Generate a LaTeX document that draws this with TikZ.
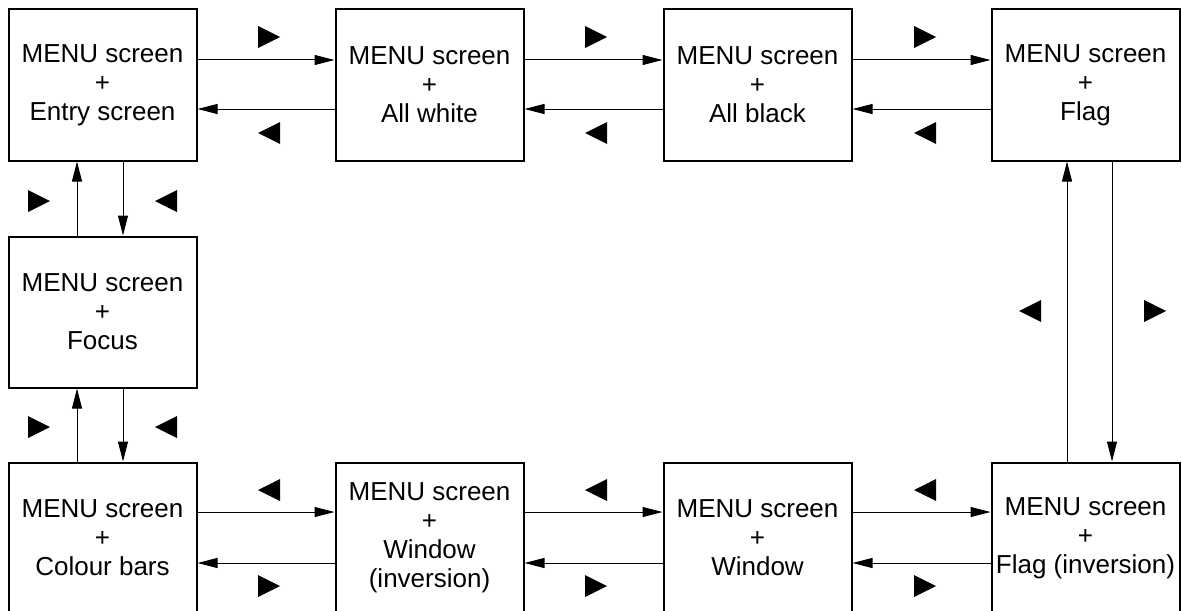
\documentclass[tikz,border=0pt]{standalone}
\usepackage{fontspec}
\setmainfont{Liberation Sans}
\usetikzlibrary{arrows.meta}
\tikzset{
  box/.style={draw, line width=2pt, minimum width=188pt, minimum height=151pt, inner sep=1pt,
    align=center, font=\fontsize{26}{29}\selectfont},
  arr/.style={line width=1pt, -{Triangle[length=20pt,width=10pt]}},
  rtri/.pic={\fill (-11,-11) -- (11,0) -- (-11,11) -- cycle;},
  ltri/.pic={\fill (11,-11) -- (-11,0) -- (11,11) -- cycle;}
}
\begin{document}
\begin{tikzpicture}[x=1pt,y=-1pt]
\useasboundingbox (0,0) rectangle (1182,610);
% boxes
\node[box] (entry) at (102.5,85) {MENU screen\\+\\Entry screen};
\node[box] (white) at (429.5,85) {MENU screen\\+\\All white};
\node[box] (black) at (757.5,85) {MENU screen\\+\\All black};
\node[box] (flag) at (1085.5,85) {MENU screen\\+\\Flag};
\node[box] (focus) at (102.5,312) {MENU screen\\+\\Focus};
\node[box] (colour) at (102.5,538) {MENU screen\\+\\Colour bars};
\node[box] (winv) at (429.5,538) {MENU screen\\+\\Window\\(inversion)};
\node[box] (win) at (757.5,538) {MENU screen\\+\\Window};
\node[box] (finv) at (1085.5,538) {MENU screen\\+\\Flag (inversion)};
% top row connectors
\draw[arr] ([yshift=25pt]entry.east) -- ([yshift=25pt]white.west);
\draw[arr] ([yshift=-24pt]white.west) -- ([yshift=-24pt]entry.east);
\draw[arr] ([yshift=25pt]white.east) -- ([yshift=25pt]black.west);
\draw[arr] ([yshift=-24pt]black.west) -- ([yshift=-24pt]white.east);
\draw[arr] ([yshift=25pt]black.east) -- ([yshift=25pt]flag.west);
\draw[arr] ([yshift=-24pt]flag.west) -- ([yshift=-24pt]black.east);
% bottom row connectors
\draw[arr] ([yshift=26pt]colour.east) -- ([yshift=26pt]winv.west);
\draw[arr] ([yshift=-25pt]winv.west) -- ([yshift=-25pt]colour.east);
\draw[arr] ([yshift=26pt]winv.east) -- ([yshift=26pt]win.west);
\draw[arr] ([yshift=-25pt]win.west) -- ([yshift=-25pt]winv.east);
\draw[arr] ([yshift=26pt]win.east) -- ([yshift=26pt]finv.west);
\draw[arr] ([yshift=-25pt]finv.west) -- ([yshift=-25pt]win.east);
% left column connectors
\draw[arr] ([xshift=-25.5pt]focus.north) -- ([xshift=-25.5pt]entry.south);
\draw[arr] ([xshift=20.5pt]entry.south) -- ([xshift=20.5pt]focus.north);
\draw[arr] ([xshift=-25.5pt]colour.north) -- ([xshift=-25.5pt]focus.south);
\draw[arr] ([xshift=20.5pt]focus.south) -- ([xshift=20.5pt]colour.north);
% right column connectors
\draw[arr] ([xshift=-18.5pt]finv.north) -- ([xshift=-18.5pt]flag.south);
\draw[arr] ([xshift=26.5pt]flag.south) -- ([xshift=26.5pt]finv.north);
% markers
\foreach \x in {269,596,925} {
  \pic at (\x,37) {rtri};
  \pic at (\x,133) {ltri};
  \pic at (\x,490) {ltri};
  \pic at (\x,586) {rtri};
}
\pic at (39,201) {rtri};
\pic at (166,201) {ltri};
\pic at (39,427) {rtri};
\pic at (166,427) {ltri};
\pic at (1030,311) {ltri};
\pic at (1155,311) {rtri};
\end{tikzpicture}
\end{document}
